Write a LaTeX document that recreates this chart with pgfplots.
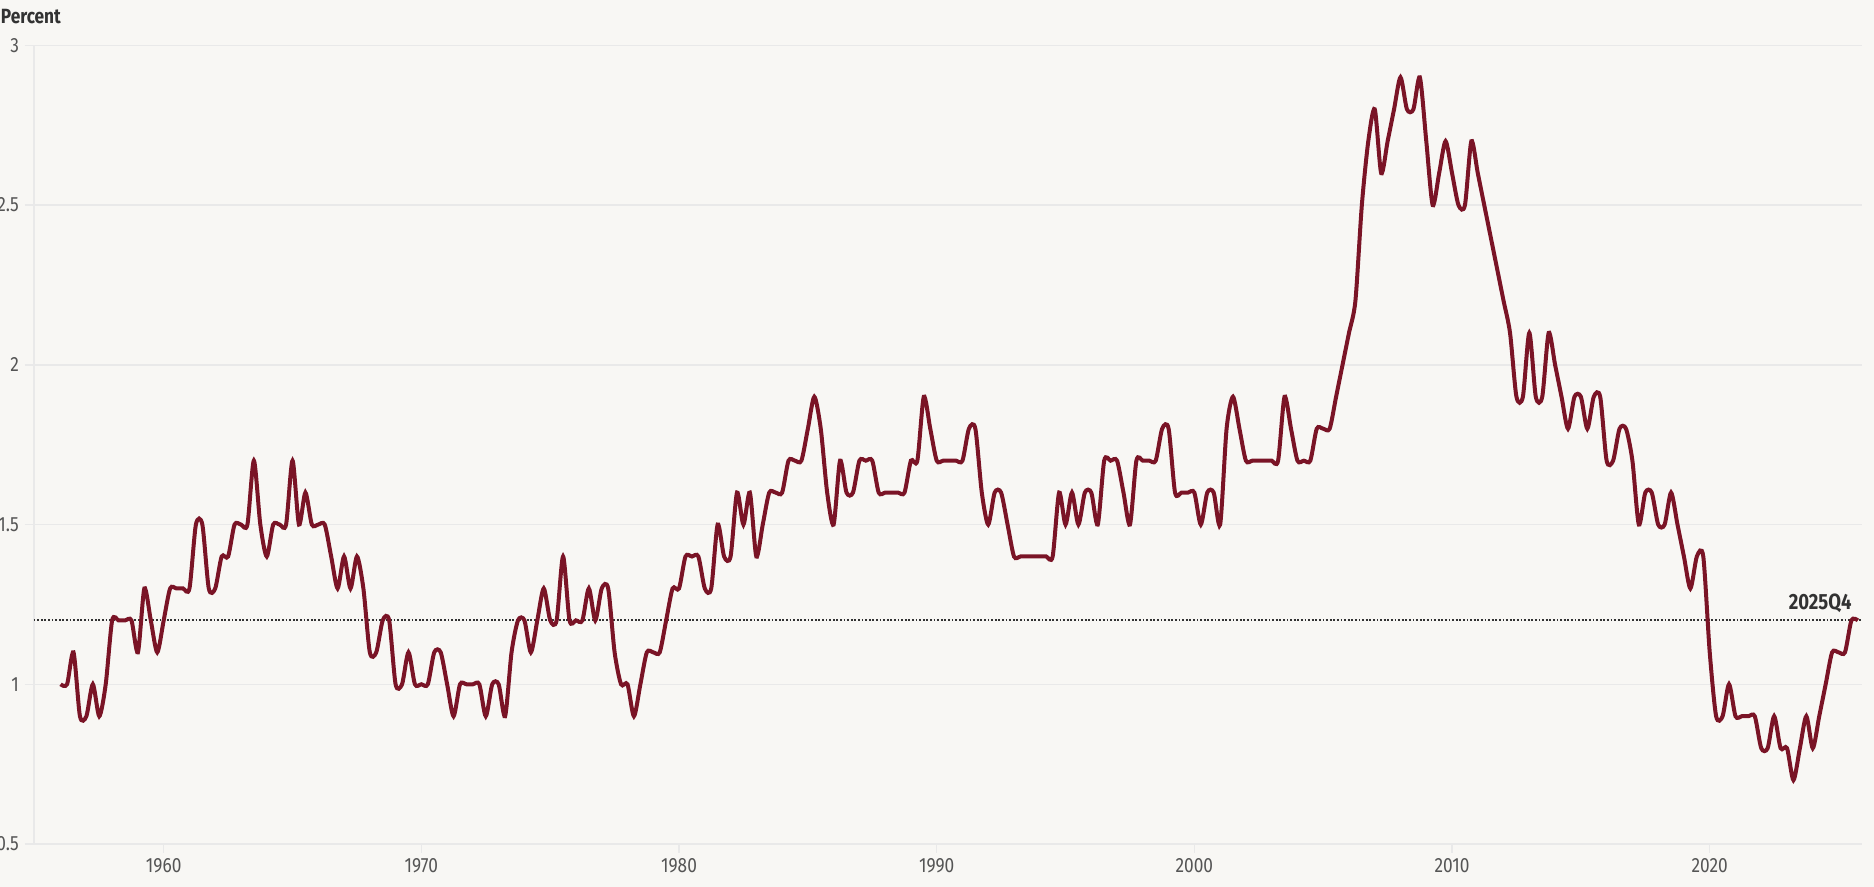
\documentclass[border=0pt]{standalone}
\usepackage{fontspec}
\setmainfont{Fira Sans}[FakeStretch=0.84]
\usepackage{pgfplots}
\pgfplotsset{compat=1.18}
\definecolor{bg}{RGB}{248,247,244}
\definecolor{linec}{RGB}{122,20,38}
\definecolor{gridc}{RGB}{233,233,233}
\definecolor{txt}{RGB}{85,85,85}
\definecolor{dark}{RGB}{50,50,50}
\begin{document}
\begin{tikzpicture}
\path[use as bounding box, fill=bg] (-16.85pt,-21.5pt) rectangle (920.15pt,422pt);
\begin{axis}[
  at={(0,0)}, anchor=south west,
  scale only axis, width=914.15pt, height=399.3pt,
  xmin=1954.955, xmax=2025.91, ymin=0.5, ymax=3,
  xtick={1960,1970,...,2020}, ytick={0.5,1,1.5,2,2.5,3},
  /pgf/number format/1000 sep={},
  /pgf/number format/assume math mode=true,
  ymajorgrids=true, xmajorgrids=false, major grid style={gridc, line width=0.75pt},
  axis lines=left, axis line style={gridc, line width=0.9pt, -},
  tick style={gridc, line width=0.75pt}, tick align=outside, major tick length=4.4pt,
  ticklabel style={font=\fontsize{10.3pt}{12pt}\selectfont, text=txt},
  yticklabel style={anchor=east, inner sep=0pt, xshift=-2.8pt},
  xticklabel style={anchor=north, inner sep=0pt, yshift=-2.6pt},
  clip=true,
]
\addplot[dark, line width=1pt, dash pattern=on 0.9pt off 0.9pt] coordinates {(1954.955,1.2) (2025.91,1.2)};
\addplot[linec, line width=2pt, smooth, tension=0.45] table[row sep=\\, header=false, x expr=1956+\coordindex/4, y index=0] {
1.0\\1.0\\1.1\\0.9\\
0.9\\1.0\\0.9\\1.0\\
1.2\\1.2\\1.2\\1.2\\
1.1\\1.3\\1.2\\1.1\\
1.2\\1.3\\1.3\\1.3\\
1.3\\1.5\\1.5\\1.3\\
1.3\\1.4\\1.4\\1.5\\
1.5\\1.5\\1.7\\1.5\\
1.4\\1.5\\1.5\\1.5\\
1.7\\1.5\\1.6\\1.5\\
1.5\\1.5\\1.4\\1.3\\
1.4\\1.3\\1.4\\1.3\\
1.1\\1.1\\1.2\\1.2\\
1.0\\1.0\\1.1\\1.0\\
1.0\\1.0\\1.1\\1.1\\
1.0\\0.9\\1.0\\1.0\\
1.0\\1.0\\0.9\\1.0\\
1.0\\0.9\\1.1\\1.2\\
1.2\\1.1\\1.2\\1.3\\
1.2\\1.2\\1.4\\1.2\\
1.2\\1.2\\1.3\\1.2\\
1.3\\1.3\\1.1\\1.0\\
1.0\\0.9\\1.0\\1.1\\
1.1\\1.1\\1.2\\1.3\\
1.3\\1.4\\1.4\\1.4\\
1.3\\1.3\\1.5\\1.4\\
1.4\\1.6\\1.5\\1.6\\
1.4\\1.5\\1.6\\1.6\\
1.6\\1.7\\1.7\\1.7\\
1.8\\1.9\\1.8\\1.6\\
1.5\\1.7\\1.6\\1.6\\
1.7\\1.7\\1.7\\1.6\\
1.6\\1.6\\1.6\\1.6\\
1.7\\1.7\\1.9\\1.8\\
1.7\\1.7\\1.7\\1.7\\
1.7\\1.8\\1.8\\1.6\\
1.5\\1.6\\1.6\\1.5\\
1.4\\1.4\\1.4\\1.4\\
1.4\\1.4\\1.4\\1.6\\
1.5\\1.6\\1.5\\1.6\\
1.6\\1.5\\1.7\\1.7\\
1.7\\1.6\\1.5\\1.7\\
1.7\\1.7\\1.7\\1.8\\
1.8\\1.6\\1.6\\1.6\\
1.6\\1.5\\1.6\\1.6\\
1.5\\1.8\\1.9\\1.8\\
1.7\\1.7\\1.7\\1.7\\
1.7\\1.7\\1.9\\1.8\\
1.7\\1.7\\1.7\\1.8\\
1.8\\1.8\\1.9\\2.0\\
2.1\\2.2\\2.5\\2.7\\
2.8\\2.6\\2.7\\2.8\\
2.9\\2.8\\2.8\\2.9\\
2.7\\2.5\\2.6\\2.7\\
2.6\\2.5\\2.5\\2.7\\
2.6\\2.5\\2.4\\2.3\\
2.2\\2.1\\1.9\\1.9\\
2.1\\1.9\\1.9\\2.1\\
2.0\\1.9\\1.8\\1.9\\
1.9\\1.8\\1.9\\1.9\\
1.7\\1.7\\1.8\\1.8\\
1.7\\1.5\\1.6\\1.6\\
1.5\\1.5\\1.6\\1.5\\
1.4\\1.3\\1.4\\1.4\\
1.1\\0.9\\0.9\\1.0\\
0.9\\0.9\\0.9\\0.9\\
0.8\\0.8\\0.9\\0.8\\
0.8\\0.7\\0.8\\0.9\\
0.8\\0.9\\1.0\\1.1\\
1.1\\1.1\\1.2\\1.2\\
};
\node[anchor=base east, inner sep=0pt, font=\fontsize{11pt}{13pt}\selectfont\bfseries, text=dark, yshift=5.35pt] at (axis cs:2025.52,1.2) {2025Q4};
\end{axis}
\node[anchor=base west, inner sep=0pt, font=\fontsize{10.3pt}{12pt}\selectfont\bfseries, text=dark] at (-16.6pt,410.35pt) {Percent};
\end{tikzpicture}
\end{document}
